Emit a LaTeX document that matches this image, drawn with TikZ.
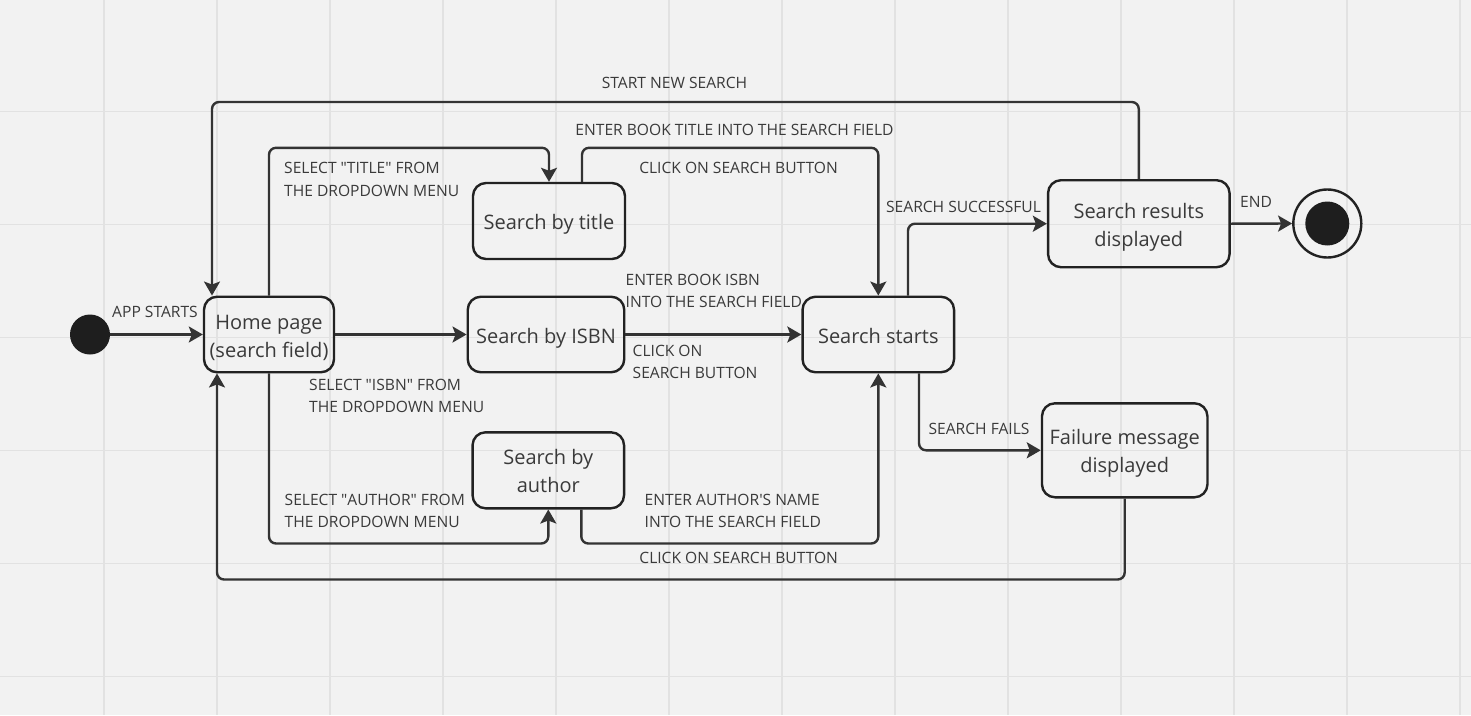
\documentclass[tikz,border=0pt]{standalone}
\usepackage{fontspec}
\setmainfont{Open Sans}
\usetikzlibrary{arrows.meta,calc}
\definecolor{bgc}{HTML}{F2F2F2}
\definecolor{gridc}{HTML}{E2E2E2}
\definecolor{linec}{HTML}{333333}
\definecolor{boxc}{HTML}{222222}
\definecolor{textc}{HTML}{3A3A3A}
\definecolor{dotc}{HTML}{1E1E1E}
\newcommand\lowln[1]{\raisebox{-3.3pt}[\height][\depth]{\vphantom{hy}#1}}
\newcommand\qd{\textquotedbl}
\tikzset{
  statebox/.style={draw=boxc, line width=2.4pt, rounded corners=13pt, align=center,
    inner sep=0pt, text=textc, font=\fontsize{20}{28}\selectfont},
  lab/.style={inner sep=0pt, text=textc, font=\fontsize{15.6}{22.3}\selectfont},
  conn/.style={draw=linec, line width=2.4pt, rounded corners=7pt,
    -{Stealth[length=14pt,width=16pt,inset=3pt]}},
}
\begin{document}
\begin{tikzpicture}[x=1pt,y=-1pt]
\useasboundingbox (0,0) rectangle (1471,715);
\fill[bgc] (0,0) rectangle (1471,715);
\foreach \gx in {104,217,...,1460} \draw[gridc, line width=1.5pt] (\gx,0) -- (\gx,715);
\foreach \gy in {111.5,224.5,...,680} \draw[gridc, line width=1.5pt] (0,\gy) -- (1471,\gy);

% states
\node[circle, fill=dotc, minimum size=40pt, inner sep=0pt] (init) at (90,334.5) {};
\node[statebox, minimum width=130pt, minimum height=75.5pt] (home) at (269,334.5) {\lowln{Home page}\\\lowln{(search field)}};
\node[statebox, minimum width=152pt, minimum height=76pt] (title) at (549,221) {\lowln{Search by title}};
\node[statebox, minimum width=156.5pt, minimum height=75.5pt] (isbn) at (546,334.5) {\lowln{Search by ISBN}};
\node[statebox, minimum width=151.5pt, minimum height=76pt] (author) at (548.3,470.3) {\lowln{Search by}\\\lowln{author}};
\node[statebox, minimum width=151.5pt, minimum height=75.5pt] (starts) at (878.3,334.5) {\lowln{Search starts}};
\node[statebox, minimum width=181.5pt, minimum height=87pt] (results) at (1138.8,223.7) {\lowln{Search results}\\\lowln{displayed}};
\node[statebox, minimum width=165.5pt, minimum height=94pt] (failure) at (1124.7,450.3) {\lowln{Failure message}\\\lowln{displayed}};
\node[circle, draw=boxc, line width=2.4pt, minimum size=68pt, inner sep=0pt] (final) at (1327.3,223.5) {};
\node[circle, fill=dotc, minimum size=44pt, inner sep=0pt] (finalin) at (final.center) {};

% connectors
\draw[conn] (init) -- (home.west);
\draw[conn] (home.east) -- (isbn.west);
\draw[conn] (home.north) |- ($(title.north)+(0,-34)$) -- (title.north);
\draw[conn] (home.south) |- ($(author.south)+(0,34)$) -- (author.south);
\draw[conn] ([xshift=33pt]title.north) -- ++(0,-34) -| (starts.north);
\draw[conn] (isbn.east) -- (starts.west);
\draw[conn] ([xshift=33pt]author.south) -- ++(0,34) -| (starts.south);
\draw[conn] ([xshift=29.7pt]starts.north) |- (results.west);
\draw[conn] ([xshift=40.7pt]starts.south) |- (failure.west);
\draw[conn] (results.east) -- (final.west);
\draw[conn] (results.north) -- ++(0,-77) -| ([xshift=-57pt]home.north);
\draw[conn] (failure.south) -- ++(0,81) -| ([xshift=-52pt]home.south);

% labels
\node[lab] (lapp) at (155,312) {APP STARTS};
\node[lab, anchor=west, align=left] (ltitle) at (284,179.5) {SELECT \qd TITLE\qd{} FROM\\THE DROPDOWN MENU};
\node[lab, anchor=west, align=left] (lisbn) at (309,396) {SELECT \qd ISBN\qd{} FROM\\THE DROPDOWN MENU};
\node[lab, anchor=west, align=left] (lauthor) at (284.5,511) {SELECT \qd AUTHOR\qd{} FROM\\THE DROPDOWN MENU};
\node[lab] (lnew) at (674.5,83.3) {START NEW SEARCH};
\node[lab] (lenttitle) at (734.5,130) {ENTER BOOK TITLE INTO THE SEARCH FIELD};
\node[lab] (lclick1) at (738.5,168.3) {CLICK ON SEARCH BUTTON};
\node[lab, anchor=west, align=left] (lentisbn) at (625.5,291) {ENTER BOOK ISBN\\INTO THE SEARCH FIELD};
\node[lab, anchor=west, align=left] (lclick2) at (632.5,362) {CLICK ON\\SEARCH BUTTON};
\node[lab, anchor=west, align=left] (lentauth) at (644.5,511) {ENTER AUTHOR\textquotesingle S NAME\\INTO THE SEARCH FIELD};
\node[lab] (lclick3) at (738.7,558) {CLICK ON SEARCH BUTTON};
\node[lab] (lsucc) at (963.5,207) {SEARCH SUCCESSFUL};
\node[lab] (lfail) at (979,428.5) {SEARCH FAILS};
\node[lab] (lend) at (1256,202) {END};
\end{tikzpicture}
\end{document}
